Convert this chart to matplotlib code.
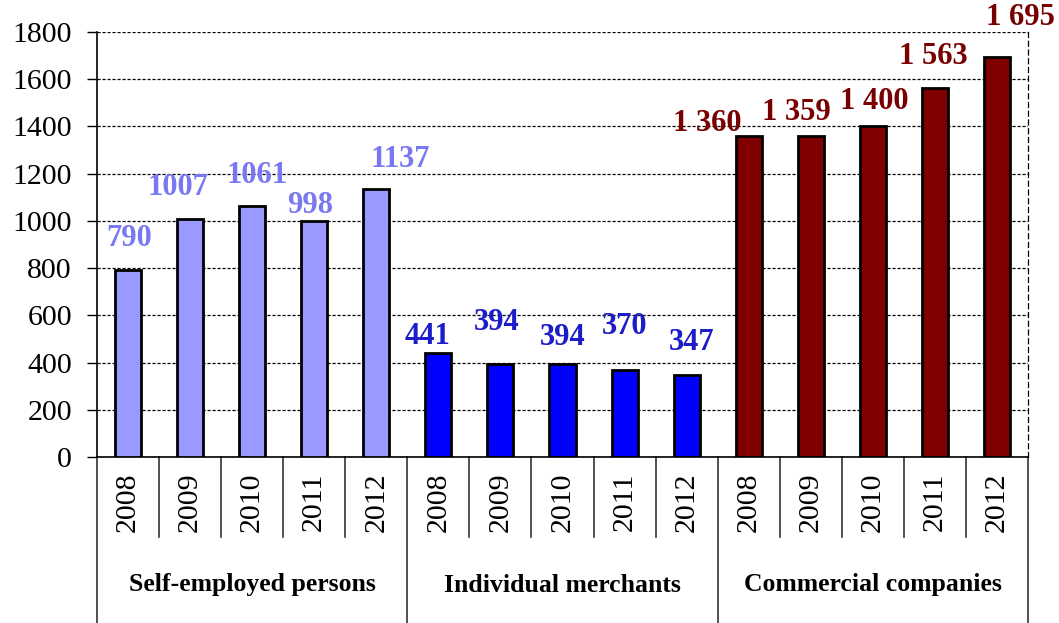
import matplotlib.pyplot as plt
import matplotlib.transforms as mtransforms

years = ["2008", "2009", "2010", "2011", "2012"]
groups = ["Self-employed persons", "Individual merchants", "Commercial companies"]

self_employed = [790, 1007, 1061, 998, 1137]
merchants = [441, 394, 394, 370, 347]
companies = [1360, 1359, 1400, 1563, 1695]

# label texts as printed on the bars (companies use a space as thousands separator)
self_employed_labels = ["790", "1007", "1061", "998", "1137"]
merchants_labels = ["441", "394", "394", "370", "347"]
companies_labels = ["1 360", "1 359", "1 400", "1 563", "1 695"]

# where each value label sits relative to its bar top (pixels)
label_offsets = [(1, 32), (-12, 32), (5, 31), (-4, 16), (24, 29),
                 (-11, 16), (-4, 41), (0, 26), (0, 43), (5, 33),
                 (-41, 12), (-14, 24), (1, 25), (-2, 31), (23, 39)]

plt.rcParams["font.family"] = "Liberation Serif"

fig = plt.figure(figsize=(10.59, 6.23), dpi=100)
ax = fig.add_axes([97 / 1059, 166 / 623, 931 / 1059, 425 / 623])

values = self_employed + merchants + companies
labels = self_employed_labels + merchants_labels + companies_labels
bar_colors = ["#9999ff"] * 5 + ["#0000ff"] * 5 + ["#800000"] * 5
text_colors = ["#7878f0"] * 5 + ["#1c1cc8"] * 5 + ["#780000"] * 5
x = list(range(len(values)))

ax.set_axisbelow(True)
ax.yaxis.grid(True, color="black", linestyle=(0, (2.5, 1.5)), linewidth=0.9)
ax.bar(x, values, width=0.42, color=bar_colors, edgecolor="black", linewidth=2, zorder=3)

for xi, v, lab, col, (dx, dy) in zip(x, values, labels, text_colors, label_offsets):
    ax.annotate(lab, (xi, v), xytext=(dx, dy), textcoords="offset pixels",
                ha="center", va="center", fontsize=22, fontweight="bold",
                color=col, zorder=5, annotation_clip=False)

ax.set_xlim(-0.5, 14.5)
ax.set_ylim(0, 1800)
ax.set_yticks(range(0, 1801, 200))
ax.tick_params(axis="y", labelsize=21.5, length=7, width=1, direction="out", pad=11)
ax.set_xticks([])

ax.spines["top"].set_visible(False)
ax.spines["right"].set_linestyle((0, (4, 3)))
ax.spines["right"].set_linewidth(0.9)
ax.spines["left"].set_linewidth(1.2)
ax.spines["bottom"].set_linewidth(1.2)

# category table under the axis
trans = mtransforms.blended_transform_factory(ax.transData, fig.transFigure)
y0 = 166 / 623
y_years = 86 / 623
for i in range(len(values) + 1):
    xe = i - 0.5
    bottom = 0 if i % 5 == 0 else y_years
    ax.plot([xe, xe], [y0, bottom], color="#333333", linewidth=1.2,
            transform=trans, clip_on=False)

for xi in x:
    ax.text(xi, 121 / 623, years[xi % 5], rotation=90, ha="center", va="center",
            fontsize=21.5, transform=trans)

for g, name in enumerate(groups):
    ax.text(g * 5 + 2, 38 / 623, name, ha="center", va="center", fontsize=18.5,
            fontweight="bold", transform=trans)

fig.savefig("out.png", dpi=100)
